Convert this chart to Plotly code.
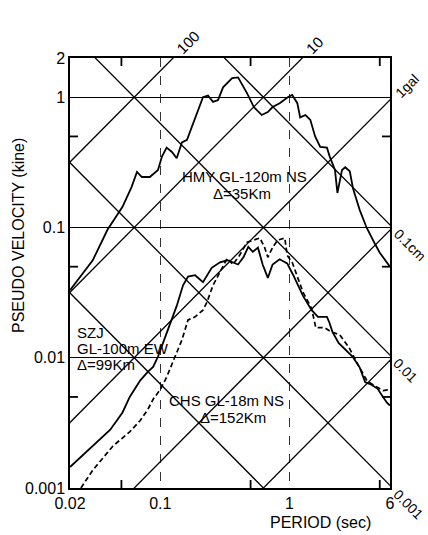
import numpy as np
import plotly.graph_objects as go

# ---------------- data ----------------
HMY_T = [0.02, 0.030, 0.039, 0.051, 0.060, 0.066, 0.072, 0.083, 0.096, 0.103, 0.112, 0.123,
         0.134, 0.147, 0.161, 0.176, 0.193, 0.214, 0.234, 0.256, 0.28, 0.306, 0.36, 0.40,
         0.47, 0.53, 0.61, 0.68, 0.74, 0.84, 0.97, 1.05, 1.15, 1.21, 1.33, 1.45, 1.58,
         1.73, 1.95, 2.05, 2.25, 2.35, 2.55, 2.7, 2.93, 3.1, 3.5, 3.95, 4.55, 5.0, 6.0]
HMY_V = [0.033, 0.056, 0.096, 0.144, 0.205, 0.267, 0.244, 0.244, 0.276, 0.35, 0.41, 0.38,
         0.34, 0.45, 0.47, 0.59, 0.76, 1.0, 1.03, 0.92, 0.95, 1.19, 1.40, 1.42,
         1.07, 0.84, 0.73, 0.77, 0.84, 0.9, 1.0, 1.04, 0.9, 0.7, 0.73, 0.67, 0.5,
         0.415, 0.41, 0.35, 0.276, 0.184, 0.276, 0.29, 0.27, 0.2, 0.136, 0.1, 0.076, 0.064, 0.05]

SZJ_T = [0.02, 0.030, 0.041, 0.051, 0.058, 0.070, 0.080, 0.088, 0.096, 0.105, 0.119, 0.134,
         0.15, 0.164, 0.186, 0.214, 0.25, 0.29, 0.33, 0.365, 0.40, 0.44, 0.48, 0.52, 0.57,
         0.62, 0.68, 0.74, 0.84, 0.96, 1.07, 1.27, 1.48, 1.66, 1.95, 2.03, 2.15, 2.4, 2.7,
         3.1, 3.5, 3.85, 4.3, 4.8, 5.3, 5.7, 6.0]
SZJ_V = [0.00145, 0.0021, 0.0028, 0.0038, 0.005, 0.0067, 0.0078, 0.0085, 0.0102, 0.013, 0.018, 0.025,
         0.036, 0.042, 0.043, 0.038, 0.049, 0.054, 0.056, 0.054, 0.052, 0.059, 0.071, 0.065, 0.07,
         0.052, 0.041, 0.052, 0.057, 0.053, 0.043, 0.030, 0.0233, 0.0206, 0.0206, 0.0188, 0.0158, 0.013, 0.0115,
         0.0101, 0.0084, 0.0065, 0.0062, 0.0058, 0.0050, 0.0045, 0.0043]

CHS_T = [0.0243, 0.030, 0.043, 0.058, 0.070, 0.080, 0.088, 0.10, 0.112, 0.13, 0.147, 0.164,
         0.186, 0.214, 0.23, 0.256, 0.29, 0.33, 0.365, 0.41, 0.47, 0.52, 0.59, 0.64, 0.68,
         0.74, 0.81, 0.92, 0.96, 1.05, 1.27, 1.48, 1.6, 1.87, 2.1, 2.45, 2.9, 3.4, 4.0, 4.7, 5.3, 6.0]
CHS_V = [0.001, 0.00137, 0.0021, 0.0027, 0.0033, 0.004, 0.0048, 0.0057, 0.0071, 0.0102, 0.0137, 0.0195,
         0.0206, 0.0232, 0.0268, 0.036, 0.0455, 0.058, 0.052, 0.061, 0.077, 0.08, 0.083, 0.071, 0.059,
         0.07, 0.08, 0.083, 0.061, 0.054, 0.032, 0.024, 0.017, 0.017, 0.0158, 0.015, 0.0119, 0.0088,
         0.0066, 0.0060, 0.0056, 0.0057]

ACCEL_GAL = [0.01, 0.1, 1, 10, 100]        # constant pseudo-acceleration lines
DISP_CM = [0.0001, 0.001, 0.01, 0.1]       # constant displacement lines

X_TICKS = [0.02, 0.1, 1, 6]
X_TICK_TEXT = ["0.02", "0.1", "1", "6"]
Y_TICKS = [0.001, 0.01, 0.1, 1, 2]
Y_TICK_TEXT = ["0.001", "0.01", "0.1", "1", "2"]
X_MINOR = [0.05, 0.5, 5]
Y_MINOR = [0.005, 0.05, 0.5]

# ---------------- figure ----------------
W, H = 428, 535
ML, MR, MT, MB = 70, 38, 58, 47
FONT = "Liberation Sans, Arial, sans-serif"
X_MIN, X_MAX = X_TICKS[0], X_TICKS[-1]
Y_MIN, Y_MAX = Y_TICKS[0], Y_TICKS[-1]
X_RANGE = [np.log10(X_MIN), np.log10(X_MAX)]
Y_RANGE = [np.log10(Y_MIN), np.log10(Y_MAX)]
PW, PH = W - ML - MR, H - MT - MB

fig = go.Figure()

T_SPAN = np.array([0.005, 20.0])
for a in ACCEL_GAL:
    fig.add_trace(go.Scatter(x=T_SPAN, y=a * T_SPAN / (2 * np.pi), mode="lines",
                             line=dict(color="black", width=1.3), hoverinfo="skip", showlegend=False))
for d in DISP_CM:
    fig.add_trace(go.Scatter(x=T_SPAN, y=2 * np.pi * d / T_SPAN, mode="lines",
                             line=dict(color="black", width=1.3), hoverinfo="skip", showlegend=False))

fig.add_trace(go.Scatter(x=HMY_T, y=HMY_V, mode="lines", name="HMY",
                         line=dict(color="black", width=1.8), showlegend=False))
fig.add_trace(go.Scatter(x=SZJ_T, y=SZJ_V, mode="lines", name="SZJ",
                         line=dict(color="black", width=1.8), showlegend=False))
fig.add_trace(go.Scatter(x=CHS_T, y=CHS_V, mode="lines", name="CHS",
                         line=dict(color="black", width=1.7, dash="5px,3px"), showlegend=False))

# minor inside tick marks on all four sides (length given in pixels, converted via the log scales)
TICK_PX = 8
fx = 10 ** (TICK_PX * (X_RANGE[1] - X_RANGE[0]) / PW)
fy = 10 ** (TICK_PX * (Y_RANGE[1] - Y_RANGE[0]) / PH)
for xv in X_MINOR:
    for y0, y1 in ((Y_MIN, Y_MIN * fy), (Y_MAX, Y_MAX / fy)):
        fig.add_trace(go.Scatter(x=[xv, xv], y=[y0, y1], mode="lines",
                                 line=dict(color="black", width=1.8),
                                 hoverinfo="skip", showlegend=False))
for yv in Y_MINOR:
    for x0, x1 in ((X_MIN, X_MIN * fx), (X_MAX, X_MAX / fx)):
        fig.add_trace(go.Scatter(x=[x0, x1], y=[yv, yv], mode="lines",
                                 line=dict(color="black", width=1.8),
                                 hoverinfo="skip", showlegend=False))


def px(x, y):
    return (x - ML) / PW, (H - MB - y) / PH


def note(text, x, y, size=15, angle=0, xanchor="center"):
    xp, yp = px(x, y)
    fig.add_annotation(x=xp, y=yp, xref="paper", yref="paper", text=text, showarrow=False,
                       textangle=angle, xanchor=xanchor, yanchor="middle",
                       font=dict(family=FONT, size=size, color="black"))


note("HMY GL-120m NS", 180, 176, xanchor="left")
note("\u0394=35Km", 211, 193, xanchor="left")
note("SZJ", 75, 332, xanchor="left")
note("GL-100m EW", 75, 348, xanchor="left")
note("\u0394=99Km", 75, 364, xanchor="left")
note("CHS GL-18m NS", 167, 400, xanchor="left")
note("\u0394=152Km", 198, 417, xanchor="left")

note("100", 188, 43, size=15, angle=-45)
note("10", 314, 45, size=15, angle=-45)
note("1gal", 407, 86, size=14, angle=-45)
note("0.1cm", 410, 245, size=14, angle=45)
note("0.01", 405, 370, size=14, angle=45)
note("0.001", 408, 504, size=14, angle=45)

note("PSEUDO VELOCITY (kine)", 18, 236, size=16, angle=-90)
note("PERIOD (sec)", 320, 522, size=16)

fig.update_layout(
    width=W, height=H,
    margin=dict(l=ML, r=MR, t=MT, b=MB, pad=0),
    paper_bgcolor="white", plot_bgcolor="white",
    font=dict(family=FONT, size=16, color="black"),
    xaxis=dict(type="log", range=X_RANGE,
               tickvals=X_TICKS, ticktext=X_TICK_TEXT, ticks="",
               showgrid=True, gridcolor="#333", gridwidth=1, griddash="dash",
               showline=True, linecolor="black", linewidth=1.5, mirror=True,
               zeroline=False,
               tickfont=dict(family=FONT, size=16, color="black")),
    yaxis=dict(type="log", range=Y_RANGE,
               tickvals=Y_TICKS, ticktext=Y_TICK_TEXT, ticks="",
               showgrid=True, gridcolor="black", gridwidth=1.2,
               showline=True, linecolor="black", linewidth=1.5, mirror=True,
               zeroline=False,
               tickfont=dict(family=FONT, size=16, color="black")),
)

fig.write_html("out.html")
